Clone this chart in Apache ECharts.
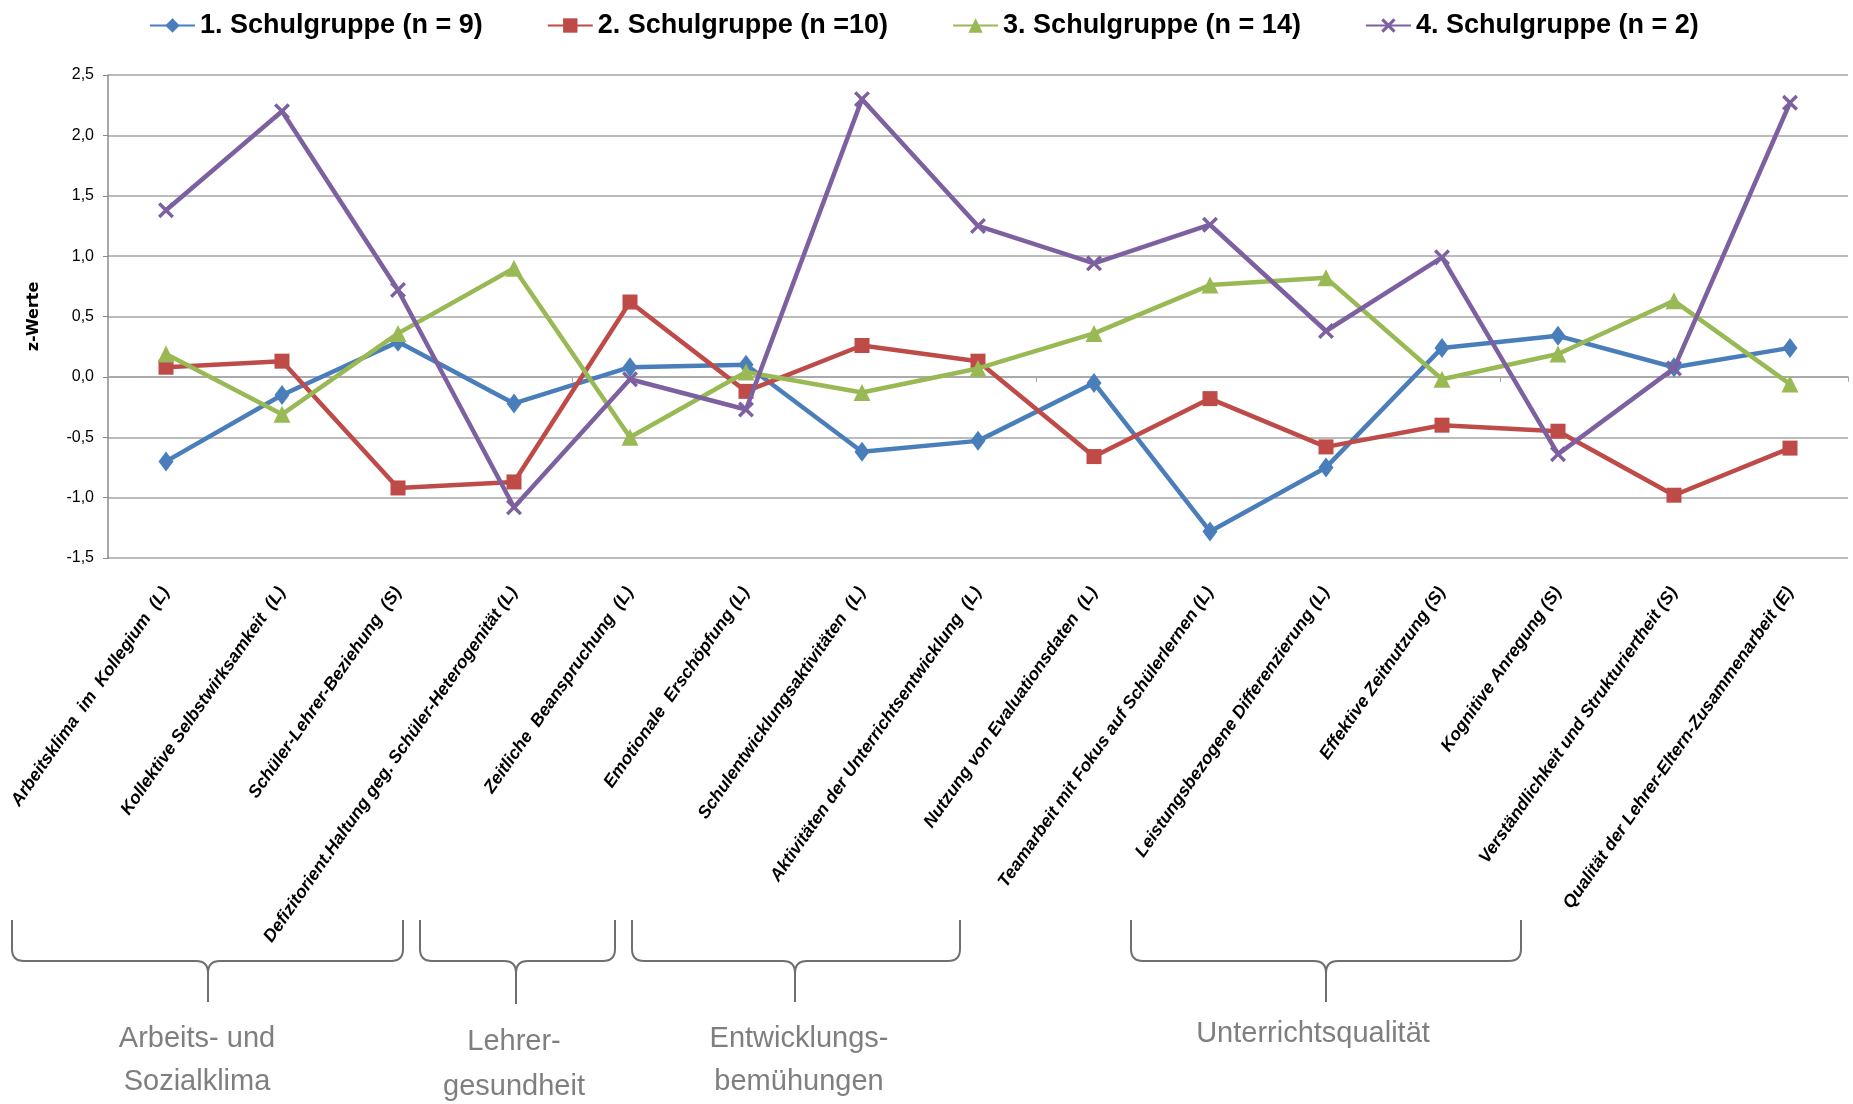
<!DOCTYPE html>
<html><head><meta charset="utf-8">
<script src="https://cdn.jsdelivr.net/npm/echarts@6/dist/echarts.min.js"></script>
<style>html,body{margin:0;padding:0;background:#fff}#c{width:1853px;height:1104px}</style>
</head><body><div id="c"></div>
<script>
const categories = [
  'Arbeitsklima  im  Kollegium  (L)',
  'Kollektive Selbstwirksamkeit  (L)',
  'Schüler-Lehrer-Beziehung  (S)',
  'Defizitorient.Haltung geg. Schüler-Heterogenität (L)',
  'Zeitliche  Beanspruchung  (L)',
  'Emotionale  Erschöpfung (L)',
  'Schulentwicklungsaktivitäten  (L)',
  'Aktivitäten der Unterrichtsentwicklung  (L)',
  'Nutzung von Evaluationsdaten  (L)',
  'Teamarbeit mit Fokus auf Schülerlernen (L)',
  'Leistungsbezogene Differenzierung (L)',
  'Effektive Zeitnutzung (S)',
  'Kognitive Anregung (S)',
  'Verständlichkeit und Strukturiertheit (S)',
  'Qualität der Lehrer-Eltern-Zusammenarbeit (E)'
];
const seriesNames = ['1. Schulgruppe (n = 9)', '2. Schulgruppe (n =10)', '3. Schulgruppe (n = 14)', '4. Schulgruppe (n = 2)'];
const gruppe1 = [-0.70, -0.15, 0.29, -0.22, 0.08, 0.10, -0.62, -0.53, -0.05, -1.28, -0.75, 0.24, 0.34, 0.08, 0.24];
const gruppe2 = [0.08, 0.13, -0.92, -0.87, 0.62, -0.12, 0.26, 0.13, -0.66, -0.18, -0.58, -0.40, -0.45, -0.98, -0.59];
const gruppe3 = [0.19, -0.31, 0.36, 0.90, -0.50, 0.04, -0.13, 0.07, 0.36, 0.76, 0.82, -0.02, 0.19, 0.63, -0.06];
const gruppe4 = [1.38, 2.20, 0.72, -1.08, -0.02, -0.27, 2.30, 1.25, 0.94, 1.26, 0.38, 0.99, -0.64, 0.07, 2.27];
const yTickLabels = {'-1.5':'-1,5','-1':'-1,0','-0.5':'-0,5','0':'0,0','0.5':'0,5','1':'1,0','1.5':'1,5','2':'2,0','2.5':'2,5'};
const groupLabels = ['Arbeits- und\nSozialklima', 'Lehrer-\ngesundheit', 'Entwicklungs-\nbemühungen', 'Unterrichtsqualität'];

const colors = ['#4A7EBB', '#BE4B48', '#98B954', '#7D60A0'];
const xMark = 'path://M0,1.5 L1.5,0 L5,3.5 L8.5,0 L10,1.5 L6.5,5 L10,8.5 L8.5,10 L5,6.5 L1.5,10 L0,8.5 L3.5,5 Z';
const symbols = ['diamond', 'rect', 'triangle', xMark];
const symbolSizes = [[15, 20], 15, 17, 16];
const allData = [gruppe1, gruppe2, gruppe3, gruppe4];

function brace(x1, x2, cx, top, h, bottom, r) {
  const st = {stroke: '#6f6f6f', lineWidth: 2, fill: null};
  const out = [];
  const line = (a, b, c, d) => out.push({type: 'line', shape: {x1: a, y1: b, x2: c, y2: d}, style: st, silent: true});
  const curve = (a, b, c, d, e, f) => out.push({type: 'bezierCurve', shape: {x1: a, y1: b, x2: c, y2: d, cpx1: e, cpy1: f}, style: st, silent: true});
  line(x1, top, x1, h - r);
  curve(x1, h - r, x1 + r, h, x1, h);
  line(x1 + r, h, cx - r, h);
  curve(cx - r, h, cx, h + r, cx, h);
  line(cx, h + r, cx, bottom);
  curve(cx, h + r, cx + r, h, cx, h);
  line(cx + r, h, x2 - r, h);
  curve(x2 - r, h, x2, h - r, x2, h);
  line(x2, h - r, x2, top);
  return out;
}
const gText = (t, x, y, lh) => ({type: 'text', x: x, y: y, silent: true,
  style: {text: t, fill: '#7f7f7f', fontSize: 29, fontFamily: 'Liberation Sans', lineHeight: lh, textAlign: 'center', textVerticalAlign: 'middle'}});

const graphics = [].concat(
  brace(12, 403, 208, 920, 961, 1002, 12),
  brace(420, 615, 516, 920, 961, 1004, 12),
  brace(632, 960, 795, 920, 961, 1002, 12),
  brace(1131, 1521, 1326, 920, 961, 1002, 12),
  [gText(groupLabels[0], 197, 1060, 43), gText(groupLabels[1], 514, 1064, 45),
   gText(groupLabels[2], 799, 1060, 43), gText(groupLabels[3], 1313, 1034, 43)]
);

const chart = echarts.init(document.getElementById('c'), null, {renderer: 'canvas'});
chart.setOption({
  animation: false,
  backgroundColor: '#fff',
  color: colors,
  legend: {
    data: seriesNames,
    left: 144, top: 7,
    itemWidth: 45, itemHeight: 18, itemGap: 64,
    textStyle: {fontSize: 27, fontWeight: 'bold', fontFamily: 'Liberation Sans', color: '#000', width: 295}
  },
  grid: {left: 108, right: 5, top: 75, bottom: 546, containLabel: false},
  xAxis: [{
    type: 'category', data: categories, boundaryGap: true, position: 'bottom',
    axisLine: {show: false, onZero: false}, axisTick: {show: false},
    axisLabel: {interval: 0, rotate: 55, margin: 31, fontSize: 17.6, fontWeight: 'bold', fontStyle: 'italic', fontFamily: 'Liberation Sans', color: '#000'}
  }, {
    type: 'category', data: categories, boundaryGap: true, position: 'bottom',
    axisLine: {show: true, onZero: true, lineStyle: {color: '#a5a5a5', width: 1.5}},
    axisTick: {show: true, length: 5, inside: false, lineStyle: {color: '#a5a5a5'}},
    axisLabel: {show: false}
  }],
  yAxis: {
    type: 'value', min: -1.5, max: 2.5, interval: 0.5,
    name: 'z-Werte', nameLocation: 'middle', nameGap: 66,
    nameTextStyle: {fontSize: 16, fontWeight: 'bold', fontFamily: 'DejaVu Sans', color: '#000'},
    axisLine: {show: true, lineStyle: {color: '#8a8a8a', width: 1.5}},
    axisTick: {show: true, length: 5, lineStyle: {color: '#8a8a8a'}},
    axisLabel: {margin: 14, fontSize: 16, fontFamily: 'Liberation Sans', color: '#000',
      formatter: v => yTickLabels[String(Math.round(v * 10) / 10)] || String(v)},
    splitLine: {show: true, lineStyle: {color: '#a5a5a5', width: 1.5}}
  },
  series: seriesNames.map((n, i) => ({
    name: n, type: 'line', xAxisIndex: 0, data: allData[i],
    symbol: symbols[i], symbolSize: symbolSizes[i],
    lineStyle: {width: 4.5, color: colors[i]},
    itemStyle: {color: colors[i]},
    z: 2 + i
  })),
  graphic: graphics
});
</script></body></html>
